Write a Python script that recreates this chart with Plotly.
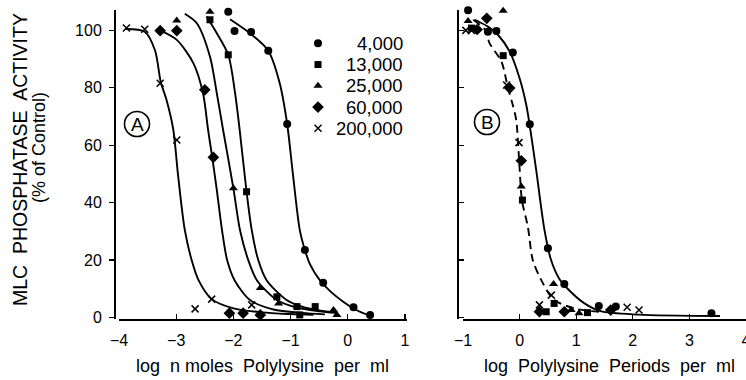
import plotly.graph_objects as go

# ---------------- data ----------------
series_names = ["4,000", "13,000", "25,000", "60,000", "200,000"]
symbols = ["circle", "square", "triangle-up", "diamond", "x-thin-open"]
marker_sizes = [8, 7, 8, 9, 7]

# Panel A : log n moles polylysine per ml
A_4000_x = [-2.09, -1.98, -1.69, -1.39, -1.06, -0.75, -0.43, 0.10, 0.39]
A_4000_y = [106.5, 99.8, 99.4, 92.9, 67.4, 23.5, 12.1, 3.6, 0.9]
A_13000_x = [-2.41, -2.09, -1.77, -1.24, -0.89, -0.57, -0.84]
A_13000_y = [103.7, 91.5, 43.8, 7.2, 3.8, 3.8, 0.9]
A_25000_x = [-2.99, -2.41, -2.00, -1.53, -1.21, -0.25, -0.19]
A_25000_y = [103.4, 106.5, 45.0, 10.3, 4.9, 2.6, 0.9]
A_60000_x = [-3.28, -2.99, -2.50, -2.35, -2.07, -1.83, -1.53]
A_60000_y = [99.9, 99.9, 79.3, 55.8, 1.5, 1.5, 0.9]
A_200000_x = [-3.87, -3.55, -3.28, -2.99, -2.67, -2.38, -1.68]
A_200000_y = [100.8, 100.4, 81.6, 61.8, 3.0, 6.4, 4.4]

# fitted curves of panel A
fitA_4000_x = [-2.06, -1.71, -1.39, -1.19, -1.06, -0.96, -0.84, -0.75, -0.66, -0.49, -0.30, -0.08, 0.13, 0.42]
fitA_4000_y = [103.9, 99.0, 92.9, 81.6, 67.4, 50.0, 30.5, 23.5, 18.5, 13.0, 9.0, 5.5, 2.8, 0.3]
fitA_13000_x = [-2.47, -2.29, -2.09, -1.97, -1.89, -1.77, -1.68, -1.565, -1.42, -1.07, -0.80, -0.50, -0.20]
fitA_13000_y = [104.8, 99.0, 91.5, 78.1, 65.3, 43.8, 30.5, 20.0, 13.0, 6.1, 3.8, 2.5, 1.8]
fitA_25000_x = [-2.85, -2.64, -2.41, -2.29, -2.18, -2.00, -1.885, -1.74, -1.59, -1.24, -0.90, -0.50, -0.20]
fitA_25000_y = [105.8, 102.5, 90.9, 78.1, 65.3, 45.0, 30.5, 20.0, 13.0, 6.1, 3.5, 2.2, 1.6]
fitA_60000_x = [-3.28, -2.99, -2.70, -2.53, -2.44, -2.37, -2.29, -2.20, -2.11, -1.98, -1.71, -1.30, -0.80, -0.40]
fitA_60000_y = [100.0, 96.7, 88.6, 78.0, 65.0, 55.8, 44.4, 30.5, 20.0, 13.0, 6.1, 2.8, 1.6, 1.1]
fitA_200000_x = [-3.88, -3.55, -3.37, -3.27, -3.17, -3.05, -2.97, -2.85, -2.73, -2.61, -2.38, -2.00, -1.50, -1.00, -0.60]
fitA_200000_y = [100.5, 99.5, 93.0, 82.0, 75.8, 65.3, 50.0, 30.5, 20.0, 13.0, 6.4, 3.2, 1.8, 1.2, 0.9]

# Panel B : log polylysine periods per ml
B_4000_x = [-0.91, -0.56, -0.41, -0.12, 0.18, 0.50, 0.79, 1.40, 1.70, 3.39]
B_4000_y = [107.0, 99.5, 99.8, 92.3, 67.3, 24.1, 11.7, 4.0, 3.8, 1.5]
B_13000_x = [-0.85, -0.29, 0.05, 0.61, 0.47, 1.20]
B_13000_y = [100.8, 91.2, 40.9, 4.9, 2.0, 1.7]
B_25000_x = [-0.91, -0.29, 0.03, 0.60, 0.91, 1.05]
B_25000_y = [103.3, 106.8, 45.6, 11.7, 2.6, 1.5]
B_60000_x = [-0.75, -0.58, -0.175, 0.03, 0.35, 0.79, 1.61]
B_60000_y = [100.3, 104.2, 79.9, 54.6, 2.0, 2.0, 2.6]
B_200000_x = [-0.95, -0.85, -0.23, -0.01, 0.56, 0.35, 1.90, 2.11]
B_200000_y = [100.0, 100.0, 81.0, 60.9, 7.8, 4.4, 3.6, 2.6]

fitB_solid_x = [-0.79, -0.56, -0.38, -0.175, 0.0, 0.118, 0.175, 0.293, 0.439, 0.556, 0.70, 0.84, 1.14, 1.43, 2.10, 3.54]
fitB_solid_y = [103.7, 101.3, 98.4, 92.6, 83.3, 74.0, 67.4, 51.4, 30.5, 20.0, 13.5, 10.2, 5.0, 2.2, 1.0, 0.5]
fitB_dash_x = [-0.82, -0.61, -0.53, -0.32, -0.205, -0.12, -0.06, 0.0, 0.04, 0.146, 0.233, 0.381, 0.61, 1.00, 1.40]
fitB_dash_y = [103.7, 100.2, 95.5, 89.1, 79.9, 74.0, 68.8, 52.0, 41.0, 31.6, 20.0, 13.1, 6.1, 3.0, 2.0]

xticksA = [-4, -3, -2, -1, 0, 1]
xticksB = [-1, 0, 1, 2, 3, 4]
yticks = [0, 20, 40, 60, 80, 100]

A_x = [A_4000_x, A_13000_x, A_25000_x, A_60000_x, A_200000_x]
A_y = [A_4000_y, A_13000_y, A_25000_y, A_60000_y, A_200000_y]
B_x = [B_4000_x, B_13000_x, B_25000_x, B_60000_x, B_200000_x]
B_y = [B_4000_y, B_13000_y, B_25000_y, B_60000_y, B_200000_y]
fitA_x = [fitA_4000_x, fitA_13000_x, fitA_25000_x, fitA_60000_x, fitA_200000_x]
fitA_y = [fitA_4000_y, fitA_13000_y, fitA_25000_y, fitA_60000_y, fitA_200000_y]

# ---------------- figure ----------------
W, H = 746, 380
FONT = "Liberation Sans, Arial, Helvetica, sans-serif"
fig = go.Figure()

line_style = dict(color="black", width=1.9, shape="spline", smoothing=0.8)
for fx, fy in zip(fitA_x, fitA_y):
    fig.add_trace(go.Scatter(x=fx, y=fy, mode="lines", line=line_style,
                             showlegend=False, hoverinfo="skip", xaxis="x", yaxis="y"))
fig.add_trace(go.Scatter(x=fitB_solid_x, y=fitB_solid_y, mode="lines", line=line_style,
                         showlegend=False, hoverinfo="skip", xaxis="x2", yaxis="y2"))
fig.add_trace(go.Scatter(x=fitB_dash_x, y=fitB_dash_y, mode="lines",
                         line=dict(line_style, dash="8px,5px"),
                         showlegend=False, hoverinfo="skip", xaxis="x2", yaxis="y2"))

def marker_of(i):
    return dict(symbol=symbols[i], size=marker_sizes[i], color="black",
                line=dict(color="black", width=1.5 if symbols[i].startswith("x") else 0))

for i, name in enumerate(series_names):
    fig.add_trace(go.Scatter(x=A_x[i], y=A_y[i], mode="markers", marker=marker_of(i),
                             name=name, showlegend=False, cliponaxis=False,
                             xaxis="x", yaxis="y"))
    fig.add_trace(go.Scatter(x=B_x[i], y=B_y[i], mode="markers", marker=marker_of(i),
                             name=name, showlegend=False, cliponaxis=False,
                             xaxis="x2", yaxis="y2"))

# hand-made legend (pixel overlay axis): marker column + right-aligned labels
LEG_MARK_X, LEG_TEXT_RIGHT, LEG_TOP, LEG_STEP = 318, 405, 43.3, 21.25
for i, name in enumerate(series_names):
    fig.add_trace(go.Scatter(x=[LEG_MARK_X], y=[LEG_TOP + i * LEG_STEP], mode="markers",
                             marker=marker_of(i), showlegend=False, hoverinfo="skip",
                             cliponaxis=False, xaxis="x3", yaxis="y3"))
    fig.add_annotation(text=name, xref="x3", yref="y3", x=LEG_TEXT_RIGHT, y=LEG_TOP + i * LEG_STEP,
                       xanchor="right", yanchor="middle", showarrow=False,
                       font=dict(family=FONT, size=18.5, color="black"))

def px(x):
    return x / W

def py(y):
    return (H - y) / H

yr = [-0.52, 107.1]
ydom = [py(319), py(10)]
axis_common = dict(showgrid=False, zeroline=False, showline=True, linecolor="black",
                   linewidth=1.5, tickcolor="black", tickwidth=1.2, automargin=False,
                   ticklabeloverflow="allow",
                   tickfont=dict(family=FONT, size=16, color="black"))
hidden = dict(visible=False, showgrid=False, zeroline=False, automargin=False)

fig.update_layout(
    template="none",
    width=W, height=H, margin=dict(l=0, r=0, t=0, b=0, pad=0, autoexpand=False),
    paper_bgcolor="white", plot_bgcolor="rgba(0,0,0,0)",
    font=dict(family=FONT, color="black"),
    showlegend=False,
    xaxis=dict(axis_common, domain=[px(119), px(407)], range=[-4, 1.035], anchor="y",
               tickvals=xticksA, ticks="inside", ticklen=5, ticklabelstandoff=6),
    yaxis=dict(axis_common, domain=ydom, range=yr, anchor="free", position=px(114),
               tickvals=yticks, ticks="outside", ticklen=5, ticklabelstandoff=4),
    xaxis2=dict(axis_common, domain=[px(463), 1.0], range=[-1, 4.0], anchor="y2",
                tickvals=xticksB, ticks="inside", ticklen=5, ticklabelstandoff=6),
    yaxis2=dict(axis_common, domain=ydom, range=yr, anchor="free", position=px(457),
                tickvals=yticks, ticks="inside", ticklen=5, showticklabels=False),
    xaxis3=dict(hidden, domain=[0, 1], range=[0, W], anchor="y3"),
    yaxis3=dict(hidden, domain=[0, 1], range=[H, 0], anchor="x3"),
)

ann = dict(xref="paper", yref="paper", showarrow=False, xanchor="center", yanchor="middle")
fig.add_annotation(ann, text="log  n moles  Polylysine  per  ml", x=px(262), y=py(366),
                   font=dict(family=FONT, size=18, color="black"))
fig.add_annotation(ann, text="log  Polylysine  Periods  per  ml", x=px(609), y=py(366),
                   font=dict(family=FONT, size=18, color="black"))
fig.add_annotation(ann, text="MLC  PHOSPHATASE  ACTIVITY", textangle=-90, x=px(20), y=py(160),
                   font=dict(family=FONT, size=19.5, color="black"))
fig.add_annotation(ann, text="(% of Control)", textangle=-90, x=px(39), y=py(148),
                   font=dict(family=FONT, size=18, color="black"))

for lab, cx, cy in [("A", 137, 124), ("B", 487, 122)]:
    r = 12.5
    fig.add_shape(type="circle", xref="paper", yref="paper",
                  x0=px(cx - r), x1=px(cx + r), y0=py(cy + r), y1=py(cy - r),
                  line=dict(color="black", width=1.6))
    fig.add_annotation(ann, text=lab, x=px(cx), y=py(cy + 0.5),
                       font=dict(family=FONT, size=19, color="black"))

fig.write_html("out.html", config={"displayModeBar": False, "staticPlot": True},
               post_script="document.body.style.margin='0';document.body.style.overflow='hidden';")
